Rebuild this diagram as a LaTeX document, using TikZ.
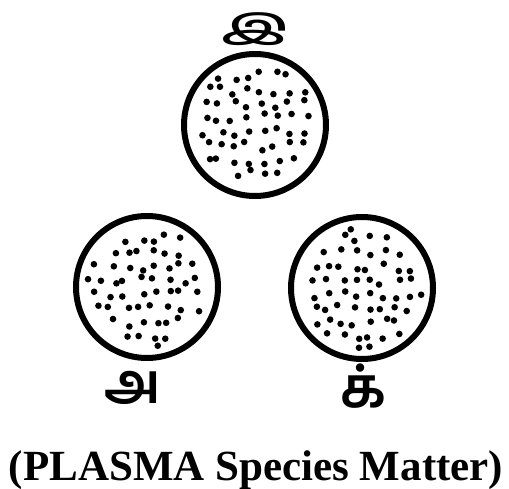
\documentclass[tikz,border=0pt]{standalone}
\usepackage{fontspec}
\newfontfamily\tamilfont[Script=Tamil]{Hind Madurai}
\newfontfamily\titlefont{Liberation Serif}
\begin{document}
\begin{tikzpicture}[x=1pt,y=-1pt,
  ball/.style={circle, draw=black, line width=6pt, minimum size=142pt, inner sep=0pt},
  letter/.style={font=\tamilfont\bfseries\fontsize{56}{60}\selectfont, inner sep=0pt},
  dotfill/.style={fill=black}]
\useasboundingbox (0,0) rectangle (509,489);
\pgfmathsetseed{4242}
\node[ball] (top) at (255,125) {};
\node[ball] (left) at (147,287) {};
\node[ball] (right) at (362,288) {};
\foreach \c in {top,left,right}{
  \foreach \gx in {-63,-49,...,63}{
    \foreach \gy in {-63,-49,...,63}{
      \pgfmathsetmacro\dx{\gx+4.5*rand}
      \pgfmathsetmacro\dy{\gy+4.5*rand}
      \pgfmathsetmacro\dd{sqrt(\dx*\dx+\dy*\dy)}
      \ifdim\dd pt<60pt
        \fill[dotfill] (\c) ++(\dx,\dy) circle (3.3pt);
      \fi
    }
  }
}
\node[letter, font=\tamilfont\bfseries\fontsize{44}{48}\selectfont, xscale=1.35, yscale=0.75, transform shape] (li) at (255,29) {இ};
\node[letter] (la) at (133,388) {அ};
\node[letter] (lk) at (363,386) {க்};
\node[font=\titlefont\bfseries\fontsize{43}{46}\selectfont, inner sep=0pt, anchor=base] (title) at (256,480) {(PLASMA Species Matter)};
\end{tikzpicture}
\end{document}
